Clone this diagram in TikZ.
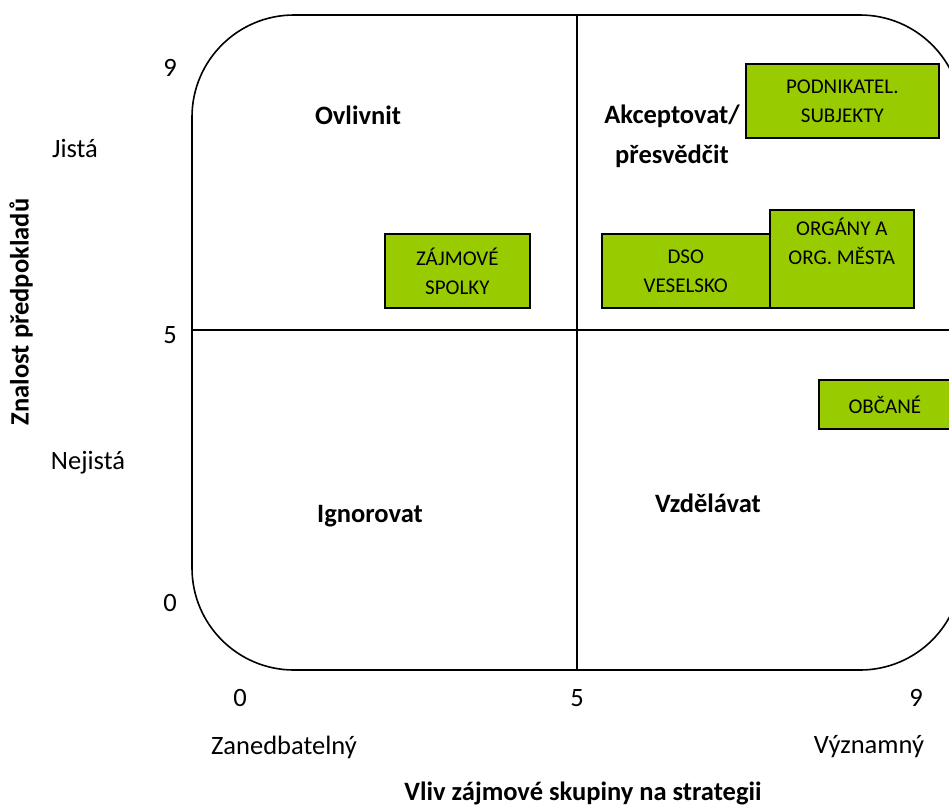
\documentclass[tikz,border=0pt]{standalone}
\usepackage{fontspec}
\setmainfont{Carlito}
\usepackage{tikz}
\usetikzlibrary{positioning}

\definecolor{grpgreen}{RGB}{153,204,0}

\tikzset{
  txt/.style={font=\fontsize{26.5}{31}\selectfont, inner sep=0pt},
  strat/.style={font=\fontsize{26.5}{40}\selectfont\bfseries, inner sep=0pt, align=center},
  grp/.style={draw=black, line width=1.6pt, fill=grpgreen, inner sep=0pt,
    font=\fontsize{21}{29}\selectfont, align=center},
}

\begin{document}
\begin{tikzpicture}[x=1pt, y=-1pt]
\useasboundingbox (0,0) rectangle (949,807);
\clip (0,0) rectangle (949,807);
% frame and quadrants
\draw[line width=1.6pt, rounded corners=102pt] (192,15) rectangle (962,670);
\draw[line width=1.6pt] (577,15) -- (577,670);
\draw[line width=1.6pt] (192,330) -- (962,330);

% scale labels
\foreach \y/\v in {68/9, 335/5, 603/0}
    \node[txt] (y\v) at (170,\y) {\v};
\foreach \x/\v in {240/0, 577/5, 916/9}
    \node[txt] (x\v) at (\x,698) {\v};
\node[txt] (jista) at (75,148) {Jistá};
\node[txt] (nejista) at (88,463) {Nejistá};
\node[txt] (zaned) at (284,747) {Zanedbatelný};
\node[txt] (vyznam) at (869,747) {Významný};
\node[txt, font=\fontsize{26.5}{31}\selectfont\bfseries, rotate=90] (ytitle) at (21,312) {Znalost předpokladů};
\node[txt, font=\fontsize{26.5}{31}\selectfont\bfseries, anchor=base] (xtitle) at (583,800) {Vliv zájmové skupiny na strategii};

% strategies
\node[strat] (ovlivnit) at (358,115) {Ovlivnit};
\node[strat] (akcept) at (672,136) {Akceptovat/\\přesvědčit};
\node[strat] (ignor) at (370,516) {Ignorovat};
\node[strat] (vzdel) at (708,503) {Vzdělávat};

% groups
\node[grp, minimum width=193pt, minimum height=74pt, anchor=north west] (podnik) at (745,63) {PODNIKATEL.\\SUBJEKTY};
\node[grp, minimum width=145pt, minimum height=74pt, anchor=north west] (spolky) at (384,233) {ZÁJMOVÉ\\SPOLKY};
\node[grp, minimum width=168pt, minimum height=74pt, anchor=north west] (dso) at (601,233) {DSO\\VESELSKO};
\node[grp, minimum width=144pt, minimum height=98pt, anchor=north west] (organy) at (769,209) {};
\node[inner sep=0pt, font=\fontsize{21}{29}\selectfont, align=center, below=9pt of organy.north] (organytxt) {ORGÁNY A\\ORG. MĚSTA};
\node[grp, minimum width=150pt, minimum height=49pt, anchor=north west] (obcane) at (818,379) {\hspace*{-18pt}OBČANÉ};
\end{tikzpicture}
\end{document}
